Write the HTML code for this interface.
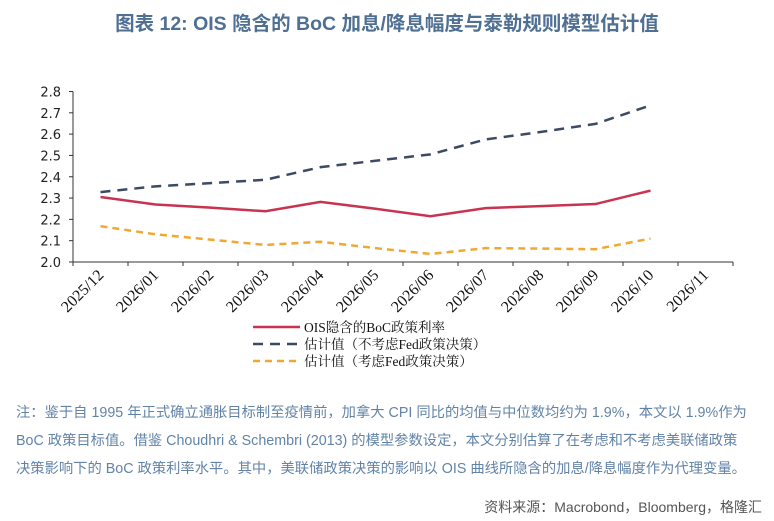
<!DOCTYPE html>
<html><head><meta charset="utf-8">
<style>
body{margin:0;width:774px;height:521px;background:#fff;overflow:hidden;font-family:"Liberation Sans","Noto Sans CJK SC",sans-serif;}
#title{position:absolute;left:0;top:7px;width:774px;text-align:center;font-size:19.5px;font-weight:bold;color:#4f6f93;}
.note{position:absolute;left:16px;font-size:14.3px;color:#6283a8;white-space:nowrap;}
#src{position:absolute;right:12px;top:497px;font-size:14px;color:#555;}
svg{position:absolute;left:0;top:0;}
</style></head><body>
<div id="title">图表 12: OIS 隐含的 BoC 加息/降息幅度与泰勒规则模型估计值</div>
<svg id="chart" width="774" height="380"></svg>
<div class="note" style="top:401px">注：鉴于自 1995 年正式确立通胀目标制至疫情前，加拿大 CPI 同比的均值与中位数均约为 1.9%，本文以 1.9%作为</div>
<div class="note" style="top:429px">BoC 政策目标值。借鉴 Choudhri &amp; Schembri (2013)  的模型参数设定，本文分别估算了在考虑和不考虑美联储政策</div>
<div class="note" style="top:457px">决策影响下的 BoC 政策利率水平。其中，美联储政策决策的影响以 OIS 曲线所隐含的加息/降息幅度作为代理变量。</div>
<div id="src">资料来源：Macrobond，Bloomberg，格隆汇</div>
<script>
const categories=["2025/12","2026/01","2026/02","2026/03","2026/04","2026/05","2026/06","2026/07","2026/08","2026/09","2026/10","2026/11"];
const yTicks=[2.0,2.1,2.2,2.3,2.4,2.5,2.6,2.7,2.8];
const oisValues=[2.305,2.27,2.255,2.238,2.282,2.25,2.215,2.253,2.262,2.272,2.335];
const estNoFed=[2.328,2.355,2.37,2.386,2.445,2.475,2.505,2.575,2.61,2.648,2.735];
const estFed=[2.168,2.13,2.105,2.08,2.095,2.065,2.038,2.065,2.063,2.06,2.11];
const legendLabels=["OIS隐含的BoC政策利率","估计值（不考虑Fed政策决策）","估计值（考虑Fed政策决策）"];
const svg=document.getElementById('chart');
const NS='http://www.w3.org/2000/svg';
const X0=73,BW=55,Y0=262,YTOP=91.5,YMIN=2.0,YMAX=2.8;
function xs(i){return X0+BW*(i+0.5);}
function ys(v){return Y0-(v-YMIN)/(YMAX-YMIN)*(Y0-YTOP);}
function mk(t,a){const e=document.createElementNS(NS,t);for(const k in a)e.setAttribute(k,a[k]);svg.appendChild(e);return e;}
let e=mk('line',{x1:X0,y1:YTOP,x2:X0,y2:Y0,stroke:'#333','stroke-width':1});


e=mk('line',{x1:X0,y1:Y0,x2:X0+BW*categories.length,y2:Y0,stroke:'#333','stroke-width':1});


yTicks.forEach(v=>{
 const y=ys(v);
 let t=mk('line',{x1:X0-4,y1:y,x2:X0,y2:y,stroke:'#333'});
 
 
 let l=mk('text',{x:X0-12,y:y+5,'text-anchor':'end','font-size':13,fill:'#222','font-family':'DejaVu Sans, sans-serif'});
 l.textContent=v.toFixed(1);
 
 
});
for(let i=0;i<=categories.length;i++){
 let t=mk('line',{x1:X0+BW*i,y1:Y0,x2:X0+BW*i,y2:Y0+4,stroke:'#333'});
 
 
}
categories.forEach((c,i)=>{
 const x=xs(i)+4,y=Y0+14;
 let l=mk('text',{x:x,y:y,'text-anchor':'end','font-size':16,fill:'#111','font-family':'Liberation Serif, serif',transform:`rotate(-45 ${x} ${y})`});
 l.textContent=c;
 
 
});
function series(vals,color,dash,name){
 const p=mk('polyline',{points:vals.map((v,i)=>xs(i)+','+ys(v)).join(' '),fill:'none',stroke:color,'stroke-width':2.5,'stroke-dasharray':dash});
 
 
}
series(estNoFed,'#3d4a63','10 7','series-estimate-no-fed');
series(oisValues,'#c8334f','none','series-ois-implied');
series(estFed,'#f0a830','7 5','series-estimate-with-fed');
const lg=[['#c8334f','none'],['#3d4a63','10 7'],['#f0a830','7 5']];
lg.forEach((s,i)=>{
 const y=327+i*17;
 let l=mk('line',{x1:253,y1:y,x2:300,y2:y,stroke:s[0],'stroke-width':2.5,'stroke-dasharray':s[1]});
 
 
 let t=mk('text',{x:304,y:y+5,'font-size':13.5,fill:'#111','font-family':'Liberation Serif, Noto Serif CJK SC, serif'});
 t.textContent=legendLabels[i];
 
 
});
</script>
</body></html>
